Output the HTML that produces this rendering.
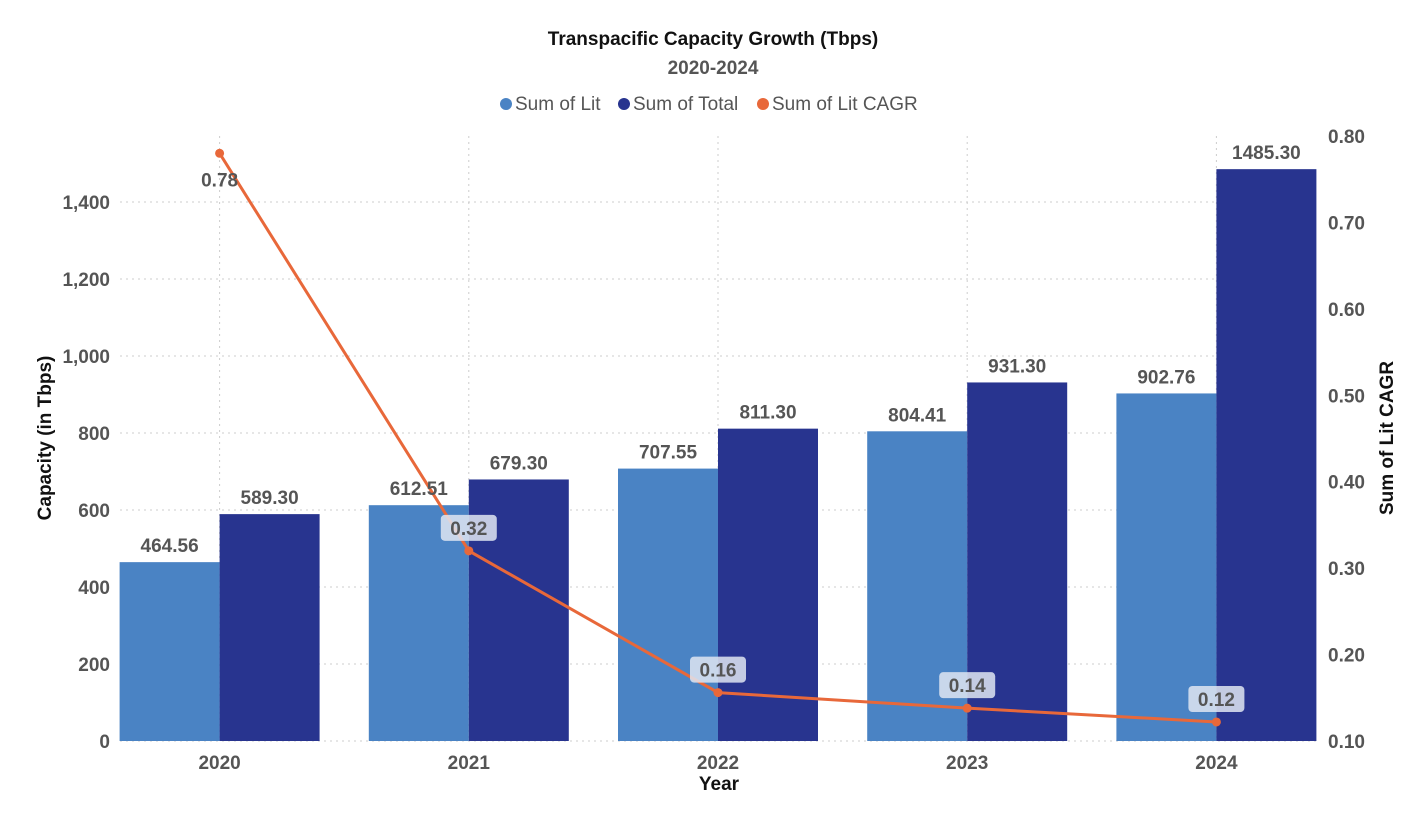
<!DOCTYPE html>
<html><head><meta charset="utf-8"><style>
body{margin:0;background:#fff;}
svg text{font-family:"Liberation Sans Narrow","Liberation Sans",sans-serif;font-weight:bold;}
</style></head><body>
<svg id="chart" width="1427" height="825" xmlns="http://www.w3.org/2000/svg">
<text x="713" y="45" text-anchor="middle" font-size="19" fill="#111">Transpacific Capacity Growth (Tbps)</text>
<text x="713" y="74" text-anchor="middle" font-size="19" fill="#555">2020-2024</text>
<g font-size="19">
<g><circle cx="506" cy="104" r="6" fill="#4a83c4"/><text x="515" y="110" fill="#555" style="font-weight:normal">Sum of Lit</text></g>
<g><circle cx="624" cy="104" r="6" fill="#28348f"/><text x="633" y="110" fill="#555" style="font-weight:normal">Sum of Total</text></g>
<g><circle cx="763" cy="104" r="6" fill="#e8683a"/><text x="772" y="110" fill="#555" style="font-weight:normal">Sum of Lit CAGR</text></g>
</g>
<g id="grid"></g><g id="bars"></g><g id="line"></g><g id="labels"></g><g id="axes"></g>
<text transform="translate(51,438) rotate(-90)" text-anchor="middle" font-size="19" fill="#111">Capacity (in Tbps)</text>
<text transform="translate(1393,438) rotate(-90)" text-anchor="middle" font-size="19" fill="#111">Sum of Lit CAGR</text>
<text x="719" y="790" text-anchor="middle" font-size="19" fill="#111">Year</text>
</svg>
<script>
const years = ["2020","2021","2022","2023","2024"];
const lit = [464.56,612.51,707.55,804.41,902.76];
const total = [589.30,679.30,811.30,931.30,1485.30];
const cagr = [0.78,0.32,0.156,0.138,0.122];
const leftTicks = [0,200,400,600,800,1000,1200,1400];
const rightTicks = [0.10,0.20,0.30,0.40,0.50,0.60,0.70,0.80];
const NS="http://www.w3.org/2000/svg";
function mk(t,a,p,txt){const e=document.createElementNS(NS,t);for(const k in a)e.setAttribute(k,a[k]);if(txt!==undefined)e.textContent=txt;p.appendChild(e);return e;}
const x0=95,x1=1341,band=(x1-x0)/years.length;
const xc=i=>x0+band*(i+0.5);
const yL=v=>741-v*(539/1400);
const yR=v=>741-(v-0.1)*(605/0.7);
const grid=document.getElementById('grid'),bars=document.getElementById('bars'),line=document.getElementById('line'),labels=document.getElementById('labels'),axes=document.getElementById('axes');
leftTicks.forEach(t=>{
 const l=mk('line',{x1:120,x2:1316,y1:yL(t),y2:yL(t),stroke:'#ccc','stroke-dasharray':'2,4'},grid);
 
 
 const tx=mk('text',{x:110,y:yL(t)+7,'text-anchor':'end','font-size':19,fill:'#555'},axes,t.toLocaleString('en-US'));
 
 
});
rightTicks.forEach(t=>{
 const tx=mk('text',{x:1328,y:yR(t)+7,'font-size':19,fill:'#555'},axes,t.toFixed(2));
 
 
});
const bw=100;
years.forEach((y,i)=>{
 const c=xc(i);
 const g=mk('line',{x1:c,x2:c,y1:136,y2:741,stroke:'#ccc','stroke-dasharray':'2,4'},grid);
 
 
 const b1=mk('rect',{x:c-bw,y:yL(lit[i]),width:bw,height:741-yL(lit[i]),fill:'#4a83c4'},bars);
 
 
 const b2=mk('rect',{x:c,y:yL(total[i]),width:bw,height:741-yL(total[i]),fill:'#28348f'},bars);
 
 
 const l1=mk('text',{x:c-bw/2,y:yL(lit[i])-10,'text-anchor':'middle','font-size':19,fill:'#555'},labels,lit[i].toFixed(2));
 
 
 const l2=mk('text',{x:c+bw/2,y:yL(total[i])-10,'text-anchor':'middle','font-size':19,fill:'#555'},labels,total[i].toFixed(2));
 
 
 const xt=mk('text',{x:c,y:769,'text-anchor':'middle','font-size':19,fill:'#555'},axes,y);
 
 
});
const pts=cagr.map((v,i)=>xc(i)+','+yR(v)).join(' ');
const pl=mk('polyline',{points:pts,fill:'none',stroke:'#e8683a','stroke-width':3},line);


cagr.forEach((v,i)=>{
 const c=xc(i),y=yR(v);
 const d=mk('circle',{cx:c,cy:y,r:4.5,fill:'#e8683a'},line);
 
 
 if(i===0){
  const t=mk('text',{x:c,y:y+33,'text-anchor':'middle','font-size':19,fill:'#555'},labels,v.toFixed(2));
  
  
 } else {
  const r=mk('rect',{x:c-28,y:y-36,width:56,height:26,rx:4,fill:'#dfe6f2','fill-opacity':0.85},labels);
  
  
  const t=mk('text',{x:c,y:y-16,'text-anchor':'middle','font-size':19,fill:'#555'},labels,v.toFixed(2));
  
  
 }
});
</script>
</body></html>
